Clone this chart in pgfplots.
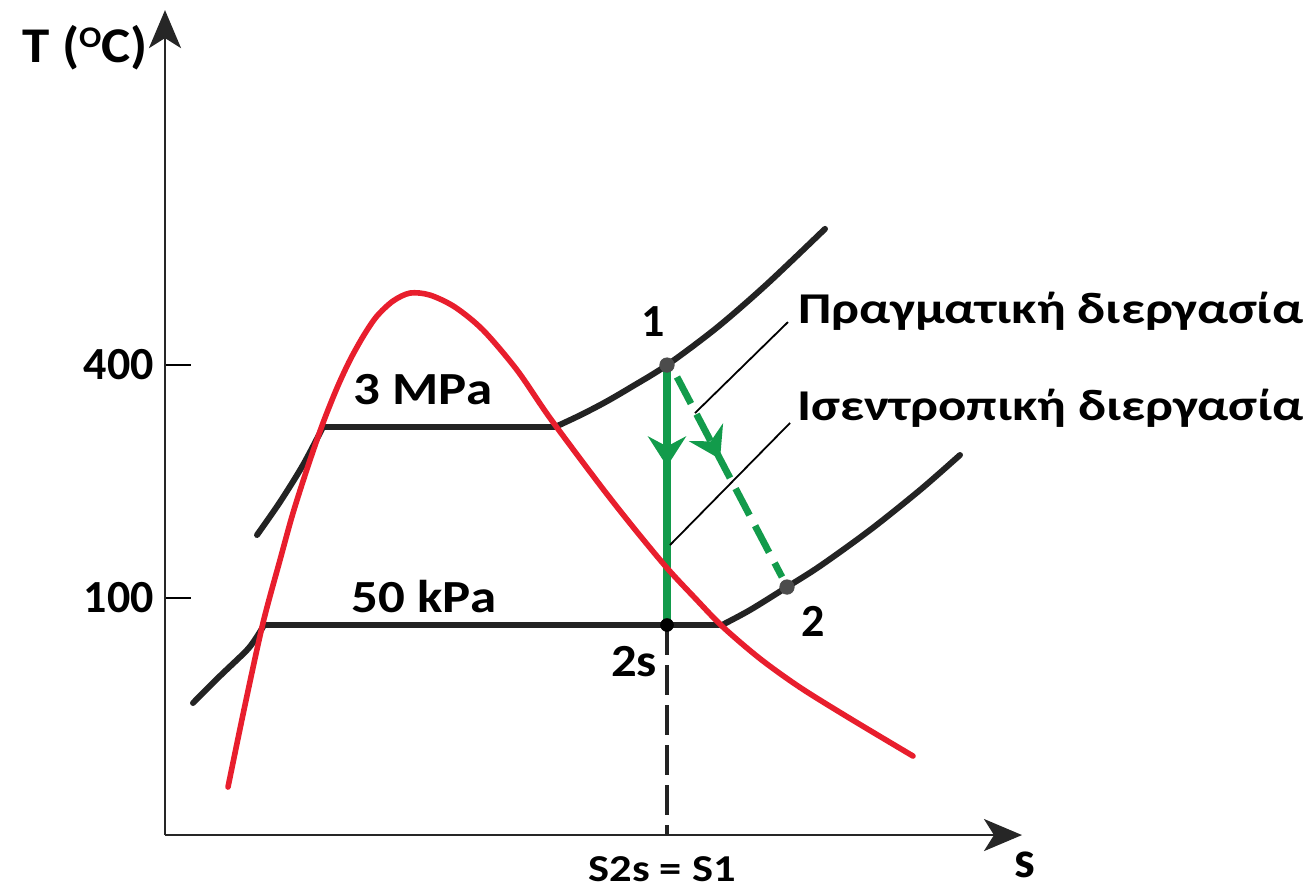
\documentclass[border=0pt]{standalone}
\usepackage{fontspec}
\setmainfont{Carlito}
\usepackage{pgfplots}
\pgfplotsset{compat=1.18}
\usetikzlibrary{arrows.meta,decorations.markings}

\definecolor{satred}{RGB}{232,30,45}
\definecolor{procgreen}{RGB}{18,155,75}
\definecolor{isobar}{RGB}{35,35,35}

\newcommand{\lbl}[1]{\bfseries\fontsize{#1}{#1}\selectfont}
\newcommand{\wide}[2]{\scalebox{#1}[1]{#2}}

\begin{document}
\begin{tikzpicture}
\begin{axis}[
  x=0.5pt, y=0.38835pt,
  xmin=165, xmax=1022, ymin=-205.1, ymax=857,
  axis lines=left,
  axis line style={line width=1.4pt, black!85,
    -{Stealth[length=19pt,width=16pt,inset=5pt]}},
  clip=false,
  xtick=\empty,
  ytick={100,400},
  tick align=inside,
  major tick length=13pt,
  tick style={line width=1pt, black},
  yticklabel style={font=\lbl{23}, xshift=-2pt},
  /pgf/number format/assume math mode=true,
]

% isentropic expansion 1 -> 2s
\addplot[procgreen, line width=4.4pt, postaction={decorate},
  decoration={markings, mark=at position 0.39 with
    {\arrow{Stealth[length=15pt,width=19pt,inset=5pt]}}}]
  coordinates {(667,400) (667,65.3)};
% actual expansion 1 -> 2
\addplot[procgreen, line width=3.4pt, dash pattern=on 15pt off 6pt, postaction={decorate},
  decoration={markings, mark=at position 0.41 with
    {\arrow{Stealth[length=15pt,width=19pt,inset=5pt]}}}]
  coordinates {(677,384.6) (782,127.1)};

% s2s = s1 projection
\addplot[isobar, line width=2pt, dash pattern=on 15pt off 5pt]
  coordinates {(667,65.3) (667,-205.1)};

% 3 MPa isobar
\addplot[isobar, line width=3pt, smooth, line cap=round]
  coordinates {(257,181.2) (280,223.7) (303,271.3) (323,320.2)};
\addplot[isobar, line width=3pt]
  coordinates {(323,320.2) (555,320.2)};
\addplot[isobar, line width=3pt, smooth, line cap=round]
  coordinates {(555,320.2) (580,335.3) (605,352.0) (630,370.7) (667,400)
               (717,448.3) (767,504.3) (825,575.3)};

% 50 kPa isobar
\addplot[isobar, line width=3pt, smooth, line cap=round]
  coordinates {(193,-35.1) (220,-0.3) (247,33.1) (258,52.4) (264,65.3)};
\addplot[isobar, line width=3pt]
  coordinates {(264,65.3) (722,65.3)};
\addplot[isobar, line width=3pt, smooth, line cap=round]
  coordinates {(722,65.3) (750,84.6) (787,114.2) (820,141.2) (870,187.6)
               (920,239.1) (960,284.2)};

% saturation dome
\addplot[satred, line width=2.8pt, smooth, line cap=round]
  coordinates {(228,-143.3) (245,-37.7) (263,67.9) (280,149.0) (293,209.5)
               (308,270.0) (323,325.4) (337,370.5) (350,406.5) (364,438.7)
               (377,463.1) (393,482.4) (410,492.7) (430,490.1) (455,474.6)
               (483,445.1) (517,393.6) (550,331.8) (600,245.5) (633,191.5)
               (667,138.7) (695,100.0) (723,62.7) (760,22.0) (800,-15.0)
               (850,-55.0) (913,-103.4)};

% leader lines
\addplot[black, line width=0.9pt] coordinates {(695,338.2) (788,455.4)};
\addplot[black, line width=0.9pt] coordinates {(670,168.3) (790,325.4)};

% state points
\addplot[only marks, mark=*, mark size=3.6pt, color=black!70]
  coordinates {(667,400) (787,114.2)};
\addplot[only marks, mark=*, mark size=3.2pt, color=black]
  coordinates {(667,65.3)};

% labels
\node[anchor=base west, inner sep=0, font=\lbl{25}] at (axis cs:22,790.1)
  {\wide{1.1}{T (\raisebox{7.5pt}{\fontsize{15}{15}\selectfont O}C)}};
\node[inner sep=0, font=\lbl{23}] at (axis cs:653,455.4) {1};
\node[inner sep=0, font=\lbl{23}] at (axis cs:813,69.8) {2};
\node[inner sep=0, font=\lbl{23}] at (axis cs:634,18.3) {\wide{1.1}{2s}};
\node[inner sep=0, font=\lbl{23}] at (axis cs:423,367.8) {\wide{1.15}{3 MPa}};
\node[inner sep=0, font=\lbl{23}] at (axis cs:424,102) {\wide{1.15}{50 kPa}};
\node[inner sep=0, font=\lbl{26}] at (axis cs:1025,-243) {s};
\node[anchor=base, inner sep=0, font=\lbl{19}] at (axis cs:662,-264.5) {\wide{1.17}{S2s = S1}};
\node[anchor=base west, inner sep=0, font=\lbl{22}] at (axis cs:798,452.9)
  {\wide{1.2}{Πραγματική διεργασία}};
\node[anchor=base west, inner sep=0, font=\lbl{22}] at (axis cs:797,329.2)
  {\wide{1.2}{Ισεντροπική διεργασία}};

\path (axis cs:0,-278.5) coordinate (bbsw) (axis cs:1309,870) coordinate (bbne);
\end{axis}
\pgfresetboundingbox
\useasboundingbox (bbsw) rectangle (bbne);
\end{tikzpicture}
\end{document}
